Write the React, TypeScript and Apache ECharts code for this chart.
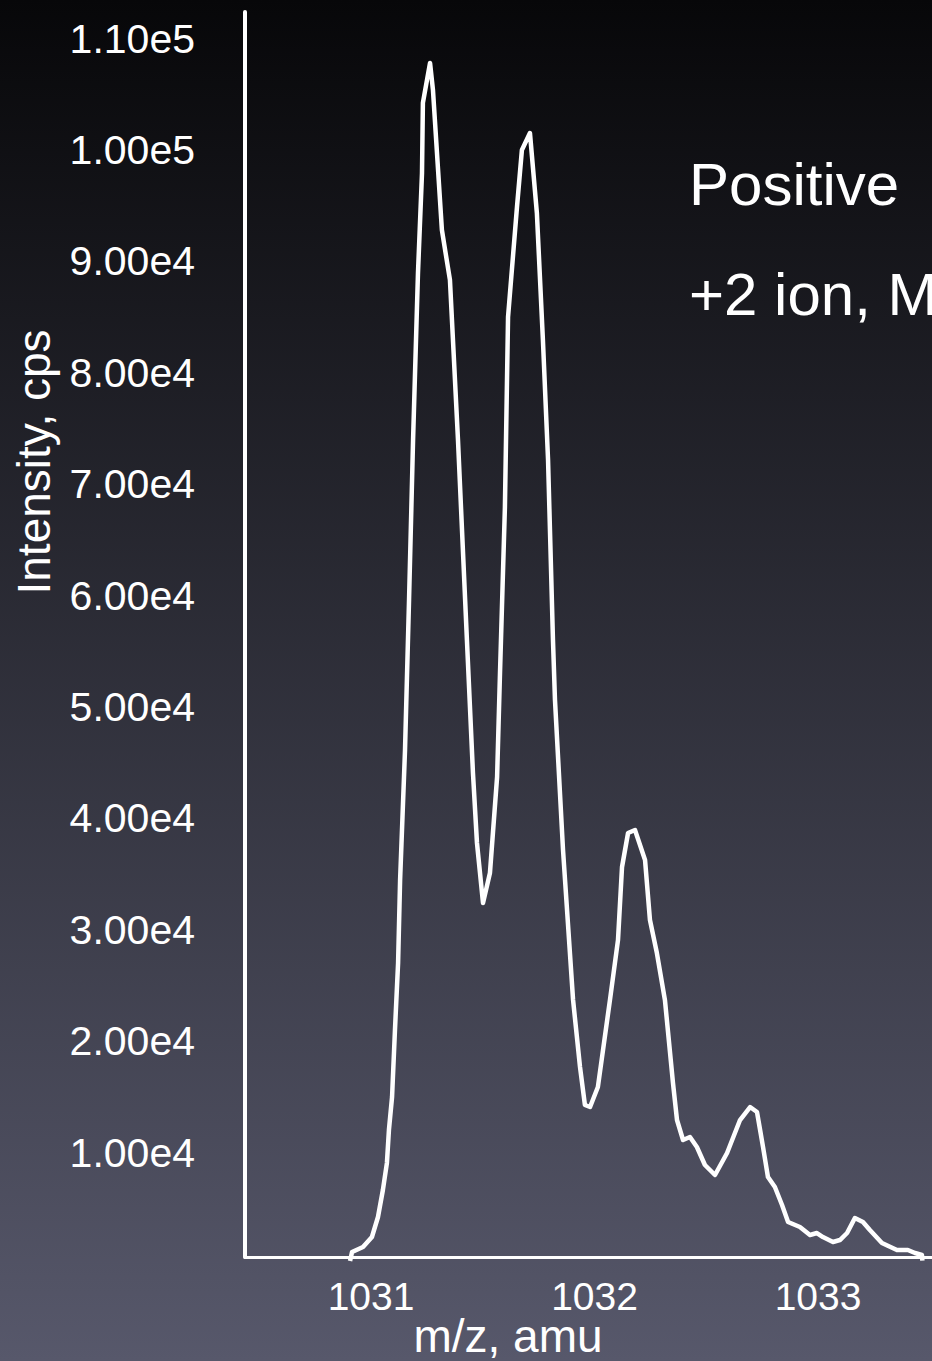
import React, { useEffect, useRef } from 'react';
import * as echarts from 'echarts';

// m/z values (amu) of the traced spectrum
const mzValues = [
  1030.906, 1030.915, 1030.964, 1031.004, 1031.031, 1031.053, 1031.071, 1031.080,
  1031.094, 1031.107, 1031.121, 1031.130, 1031.152, 1031.170, 1031.188, 1031.210,
  1031.228, 1031.232, 1031.264, 1031.277, 1031.317, 1031.353, 1031.389, 1031.429,
  1031.456, 1031.474, 1031.501, 1031.532, 1031.564, 1031.577, 1031.599, 1031.613,
  1031.653, 1031.675, 1031.711, 1031.742, 1031.769, 1031.792, 1031.814, 1031.823,
  1031.859, 1031.904, 1031.935, 1031.957, 1031.980, 1032.015, 1032.069, 1032.105,
  1032.123, 1032.150, 1032.181, 1032.226, 1032.248, 1032.279, 1032.315, 1032.351,
  1032.369, 1032.396, 1032.427, 1032.458, 1032.494, 1032.539, 1032.593, 1032.651,
  1032.696, 1032.727, 1032.754, 1032.776, 1032.807, 1032.839, 1032.866, 1032.919,
  1032.964, 1032.995, 1033.022, 1033.067, 1033.098, 1033.130, 1033.165, 1033.201,
  1033.232, 1033.286, 1033.353, 1033.402, 1033.434, 1033.465, 1033.467,
];

// intensity values (cps)
const intensityValues = [
  270, 1077, 1526, 2424, 4219, 6643, 9067, 12029,
  14992, 21006, 27021, 34472, 46142, 59607, 73970, 88962,
  97939, 104223, 107814, 105390, 92822, 88334, 73970, 56016,
  44077, 37793, 32407, 35100, 43718, 53054, 67956, 85012,
  94887, 100004, 101530, 94348, 82947, 72175, 56016, 50630,
  37165, 23699, 17685, 14273, 14094, 15889, 23699, 29085,
  35639, 38691, 38960, 36267, 30881, 27918, 23699, 16248,
  12927, 11131, 11401, 10503, 8887, 7990, 9964, 12927,
  14094, 13645, 10503, 7810, 6912, 5296, 3770, 3321,
  2603, 2783, 2424, 1975, 2154, 2783, 4129, 3770,
  3052, 1885, 1257, 1257, 987, 808, 300,
];

// annotated peaks
const peakMz = [1031.264, 1031.711, 1032.181];
const peakIntensity = [107814, 101530, 38960];
const peakLabels = ['1031.3', '1031.7', '1032.2'];

// axis ticks
const xTickValues = [1031, 1032, 1033];
const yTickValues = [10000, 20000, 30000, 40000, 50000, 60000, 70000, 80000, 90000, 100000, 110000];

const yAxisTitle = 'Intensity, cps';
const xAxisTitle = 'm/z, amu';
const noteLines = ['Positive', '+2 ion, M'];

export default function App() {
  const ref = useRef<HTMLDivElement>(null);

  useEffect(() => {
    if (!ref.current) return;
    const chart = echarts.init(ref.current, null, { renderer: 'svg' });
    const font = "'Liberation Sans', Arial, Helvetica, sans-serif";
    const labelOffsets = [10, 15, 15];
    const labelDistances = [14, 19, 17];

    chart.setOption({
      animation: false,
      backgroundColor: new echarts.graphic.LinearGradient(0, 0, 0, 1, [
        { offset: 0, color: '#070709' },
        { offset: 1, color: '#57586b' },
      ]),
      grid: { left: 245, right: 0, top: 12, bottom: 104, containLabel: false },
      xAxis: {
        type: 'value',
        min: 1030.436,
        max: 1033.51,
        axisLine: { show: true, onZero: false, lineStyle: { color: '#ffffff', width: 3 } },
        axisTick: { show: false },
        splitLine: { show: false },
        axisLabel: {
          customValues: xTickValues,
          color: '#ffffff',
          fontSize: 39,
          lineHeight: 31,
          fontFamily: font,
          margin: 24,
          formatter: (v: number) => String(v),
        },
      },
      yAxis: {
        type: 'value',
        min: 630,
        max: 112389,
        axisLine: { show: true, lineStyle: { color: '#ffffff', width: 4 } },
        axisTick: { show: false },
        splitLine: { show: false },
        axisLabel: {
          customValues: yTickValues,
          color: '#ffffff',
          fontSize: 41,
          lineHeight: 41,
          fontFamily: font,
          margin: 50,
          formatter: (v: number) => v.toExponential(2).replace('e+', 'e'),
        },
      },
      series: [
        {
          type: 'line',
          data: mzValues.map((m, i) => [m, intensityValues[i]]),
          symbol: 'none',
          showSymbol: false,
          clip: false,
          lineStyle: { color: '#ffffff', width: 4.5, join: 'round' },
          silent: true,
        },
        {
          type: 'scatter',
          symbolSize: 0,
          clip: false,
          silent: true,
          itemStyle: { opacity: 0 },
          data: peakMz.map((m, i) => ({
            value: [m, peakIntensity[i]],
            name: peakLabels[i],
            label: { offset: [labelOffsets[i], 0], distance: labelDistances[i] },
          })),
          label: {
            show: true,
            position: 'top',
            formatter: (p: any) => p.name,
            color: '#ffffff',
            fontSize: 41,
            lineHeight: 41,
            fontFamily: font,
          },
        },
      ],
      graphic: [
        {
          type: 'text',
          x: 689,
          y: 184,
          style: { text: noteLines[0], fill: '#ffffff', fontSize: 60, fontFamily: font, align: 'left', verticalAlign: 'middle' },
        },
        {
          type: 'text',
          x: 689,
          y: 294,
          style: { text: noteLines[1], fill: '#ffffff', fontSize: 60, fontFamily: font, align: 'left', verticalAlign: 'middle' },
        },
        {
          type: 'text',
          x: 34,
          y: 462,
          rotation: Math.PI / 2,
          style: { text: yAxisTitle, fill: '#ffffff', fontSize: 46, fontFamily: font, align: 'center', verticalAlign: 'middle' },
        },
        {
          type: 'text',
          x: 508,
          y: 1336,
          style: { text: xAxisTitle, fill: '#ffffff', fontSize: 46, lineHeight: 38, fontFamily: font, align: 'center', verticalAlign: 'middle' },
        },
      ],
    });

    return () => chart.dispose();
  }, []);

  return (
    <div
      ref={ref}
      style={{ position: 'absolute', left: 0, top: 0, width: 932, height: 1361 }}
    />
  );
}
